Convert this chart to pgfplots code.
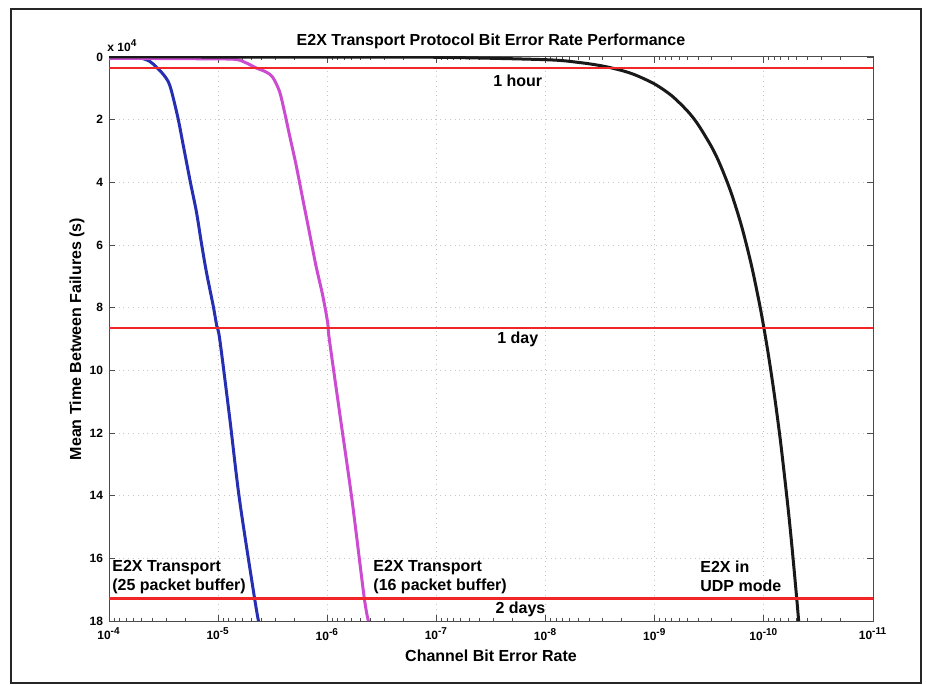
\documentclass[border=0pt]{standalone}
\usepackage{pgfplots}
\pgfplotsset{compat=1.18}
\usepackage{fontspec}
\setmainfont{Liberation Sans}
\definecolor{cblue}{rgb}{0.15,0.18,0.70}
\definecolor{cmag}{rgb}{0.80,0.30,0.82}
\definecolor{cblack}{rgb}{0.10,0.10,0.10}
\definecolor{cred}{rgb}{0.95,0.15,0.15}
\begin{document}
\begin{tikzpicture}
\begin{axis}[
  name=ax,
  at={(0,0)}, anchor=south west,
  scale only axis, width=382pt, height=282pt,
  xmode=log, x dir=reverse, xmin=1e-11, xmax=1e-4,
  ymin=0, ymax=18, y dir=reverse,
  xtick={1e-4,1e-5,1e-6,1e-7,1e-8,1e-9,1e-10,1e-11},
  xticklabels={10\textsuperscript{-4},10\textsuperscript{-5},10\textsuperscript{-6},10\textsuperscript{-7},10\textsuperscript{-8},10\textsuperscript{-9},10\textsuperscript{-10},10\textsuperscript{-11}},
  minor xtick={2e-5,3e-5,4e-5,5e-5,6e-5,7e-5,8e-5,9e-5,
               2e-6,3e-6,4e-6,5e-6,6e-6,7e-6,8e-6,9e-6,
               2e-7,3e-7,4e-7,5e-7,6e-7,7e-7,8e-7,9e-7,
               2e-8,3e-8,4e-8,5e-8,6e-8,7e-8,8e-8,9e-8,
               2e-9,3e-9,4e-9,5e-9,6e-9,7e-9,8e-9,9e-9,
               2e-10,3e-10,4e-10,5e-10,6e-10,7e-10,8e-10,9e-10,
               2e-11,3e-11,4e-11,5e-11,6e-11,7e-11,8e-11,9e-11},
  ytick={0,2,4,6,8,10,12,14,16,18},
  xmajorgrids, ymajorgrids,
  major grid style={dotted, gray!45, line width=0.5pt},
  tick align=inside,
  major tick length=3pt, minor tick length=1.6pt,
  axis line style={black!70, line width=0.5pt},
  every tick/.style={black!70, line width=0.4pt},
  /pgf/number format/assume math mode=true,
  xticklabel style={font=\fontsize{6}{7}\selectfont\bfseries},
  yticklabel style={font=\fontsize{6}{7}\selectfont\bfseries, xshift=0.5pt},
  xlabel={Channel Bit Error Rate},
  xlabel style={font=\fontsize{8}{9.5}\selectfont\bfseries, yshift=2pt},
]
\addplot[cblue, line width=1.5pt, smooth] coordinates {
 (1e-4,0.02) (7e-5,0.02) (5.21e-5,0.03) (4.23e-5,0.14) (3.66e-5,0.33) (3.19e-5,0.55)
 (2.87e-5,0.78) (2.67e-5,1.1) (2.33e-5,1.96) (2.09e-5,2.81) (1.80e-5,3.98) (1.58e-5,4.95)
 (1.42e-5,5.96) (1.28e-5,6.87) (1.11e-5,7.94) (1.03e-5,8.58) (9.68e-6,9.0) (7.85e-6,11.5)
 (6.37e-6,14.13) (4.65e-6,17.25) (4.27e-6,18)};
\addplot[cmag, line width=1.5pt, smooth] coordinates {
 (1e-4,0.04) (1.114e-5,0.06) (6.82e-6,0.08) (5.52e-6,0.19) (4.48e-6,0.35) (3.63e-6,0.48)
 (3.16e-6,0.65) (2.74e-6,1.1) (2.47e-6,1.74) (2.22e-6,2.49) (1.93e-6,3.45) (1.68e-6,4.52)
 (1.46e-6,5.59) (1.27e-6,6.66) (1.10e-6,7.62) (9.93e-7,8.47) (9.59e-7,9.0) (7.60e-7,11.5)
 (5.94e-7,14.13) (4.59e-7,17.25) (4.20e-7,18)};
\addplot[cblack, line width=1.5pt, smooth] coordinates {
 (1e-4,0.0) (1e-6,0.001) (1e-7,0.009) (1e-8,0.086) (5e-9,0.173) (3e-9,0.288) (2e-9,0.432)
 (1.5e-9,0.576) (1e-9,0.864) (7e-10,1.234) (5e-10,1.728) (4e-10,2.16) (3e-10,2.88)
 (2.5e-10,3.456) (2e-10,4.32) (1.6e-10,5.4) (1.3e-10,6.646) (1.1e-10,7.855) (1e-10,8.64)
 (9e-11,9.6) (8e-11,10.8) (7e-11,12.34) (6e-11,14.4) (5.5e-11,15.71) (5e-11,17.28) (4.8e-11,18.0)};
\addplot[cred, line width=1.2pt] coordinates {(1e-4,0.36) (1e-11,0.36)};
\addplot[cred, line width=1.2pt] coordinates {(1e-4,8.64) (1e-11,8.64)};
\addplot[cred, line width=1.2pt] coordinates {(1e-4,17.28) (1e-11,17.28)};
\node[font=\fontsize{8}{9.5}\selectfont\bfseries] at (axis cs:1.8e-8,0.75) {1 hour};
\node[font=\fontsize{8}{9.5}\selectfont\bfseries] at (axis cs:1.8e-8,9.0) {1 day};
\node[font=\fontsize{8}{9.5}\selectfont\bfseries] at (axis cs:1.7e-8,17.63) {2 days};
\node[font=\fontsize{8}{9.5}\selectfont\bfseries, anchor=west, align=left, inner sep=0pt] at (axis cs:9.39e-5,16.61) {E2X Transport\\(25 packet buffer)};
\node[font=\fontsize{8}{9.5}\selectfont\bfseries, anchor=west, align=left, inner sep=0pt] at (axis cs:3.81e-7,16.61) {E2X Transport\\(16 packet buffer)};
\node[font=\fontsize{8}{9.5}\selectfont\bfseries, anchor=west, align=left, inner sep=0pt] at (axis cs:3.85e-10,16.58) {E2X in\\UDP mode};
\end{axis}
\node[rotate=90, anchor=center, inner sep=0pt, font=\fontsize{8}{9.5}\selectfont\bfseries] at ([xshift=-16pt]ax.west) {Mean Time Between Failures (s)};
\node[anchor=base, yshift=5.5pt, font=\fontsize{8}{9.5}\selectfont\bfseries] at (ax.north) {E2X Transport Protocol Bit Error Rate Performance};
\node[anchor=base west, inner sep=0pt, yshift=2.5pt, xshift=-1pt, font=\fontsize{6}{7}\selectfont\bfseries] at (ax.north west) {x 10\textsuperscript{4}};
\draw[black!85, line width=0.9pt] ([xshift=-49pt,yshift=-31pt]ax.south west) rectangle ([xshift=24pt,yshift=24pt]ax.north east);
\pgfresetboundingbox
\path[use as bounding box] ([xshift=-54.5pt,yshift=-32pt]ax.south west) rectangle ([xshift=26.5pt,yshift=28.5pt]ax.north east);
\end{tikzpicture}
\end{document}
